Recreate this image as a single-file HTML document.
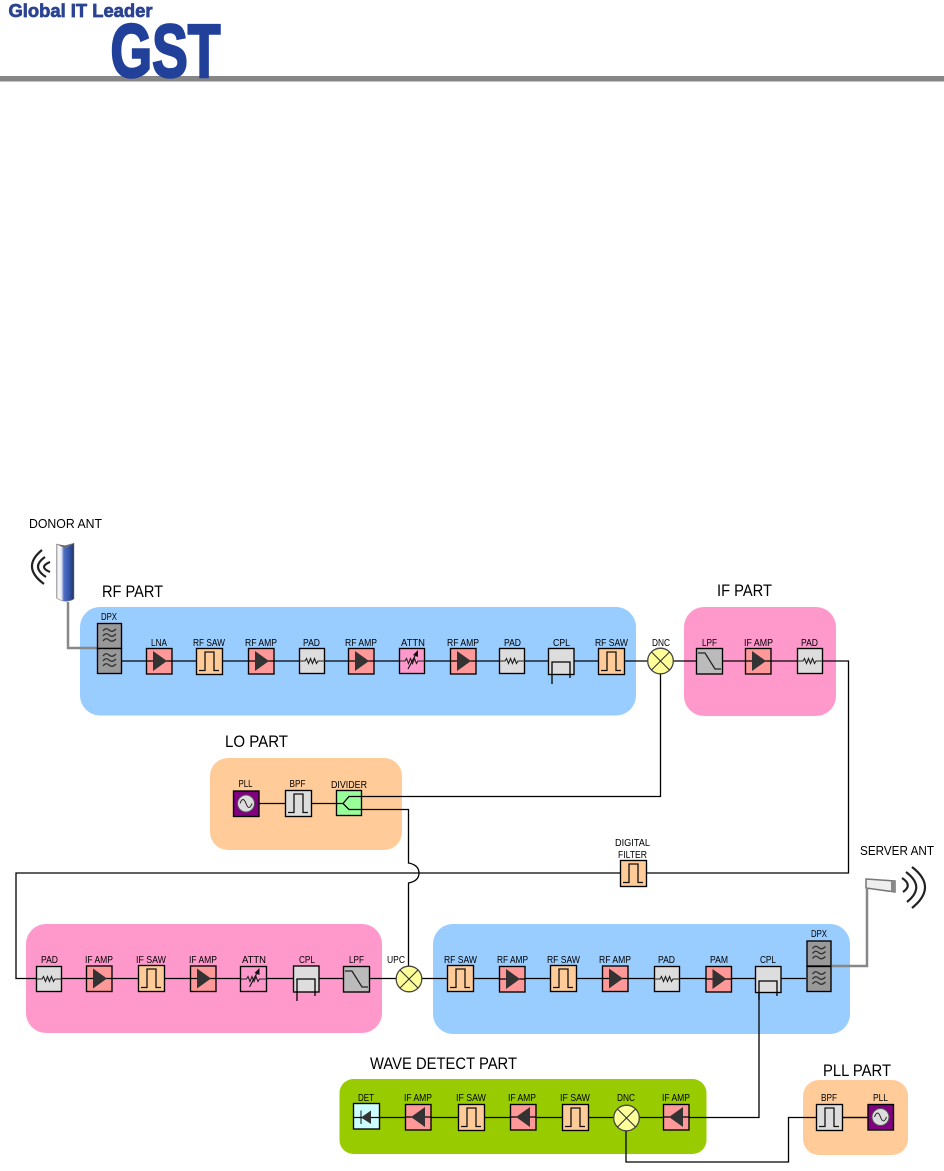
<!DOCTYPE html>
<html><head><meta charset="utf-8"><style>
html,body{margin:0;padding:0;background:#fff}
svg{display:block}
text{font-family:"Liberation Sans",sans-serif;fill:#000}
.s{font-size:10.5px}
.t{font-size:16.500px}
.m{font-size:12.500px}
rect[stroke="#000"]{stroke-width:1.350}
</style></head><body>
<svg width="944" height="1171" viewBox="0 0 944 1171" xmlns="http://www.w3.org/2000/svg">
<defs>
<linearGradient id="ant" x1="0" x2="1" y1="0" y2="0"><stop offset="0" stop-color="#bbbbc4"/><stop offset=".14" stop-color="#fff"/><stop offset=".3" stop-color="#d8dcec"/><stop offset=".42" stop-color="#4f70c8"/><stop offset=".82" stop-color="#2a4a9c"/><stop offset="1" stop-color="#2a2f44"/></linearGradient>
<g id="amp"><rect x=".5" y=".5" width="25.500" height="25.500" fill="#ff9999" stroke="#000"/><path d="M0 13H26" stroke="#000" stroke-width="1.300"/><path d="M7 3L21 13 7 23Z" fill="#333"/></g>
<g id="ampL"><rect x=".5" y=".5" width="25.500" height="25.500" fill="#ff9999" stroke="#000"/><path d="M0 13H26" stroke="#000" stroke-width="1.300"/><path d="M20 3L6 13 20 23Z" fill="#333"/></g>
<g id="saw"><rect x=".5" y=".5" width="26" height="26" fill="#ffcc99" stroke="#000"/><path d="M3 22.500H9V4H18V22.500H23" fill="none" stroke="#111" stroke-width="1.300"/></g>
<g id="bpf"><rect x=".5" y=".5" width="26" height="26" fill="#dddddd" stroke="#000"/><path d="M3 22.500H9V4H18V22.500H23" fill="none" stroke="#111" stroke-width="1.300"/></g>
<g id="pad"><rect x=".5" y=".5" width="25" height="25" fill="#dddddd" stroke="#000"/><path d="M0 13H6L7.500 10.500 9.500 15.500 11.500 10.500 13.500 15.500 15.500 10.500 17.500 15.500 19 13H26" fill="none" stroke="#222" stroke-width="1.100"/></g>
<g id="attn"><path d="M0 13H6L7.500 10.500 9.500 15.500 11.500 10.500 13.500 15.500 15.500 10.500 17.500 15.500 19 13H26" fill="none" stroke="#222" stroke-width="1.100"/><path d="M9 21L17 6" stroke="#111" stroke-width="1.100"/><path d="M19 2L19 9 14 7Z" fill="#111"/></g>
<g id="lpf"><rect x=".5" y=".5" width="26" height="25.500" fill="#bbbbbb" stroke="#000"/><path d="M2 5H9L19 21H25" fill="none" stroke="#222" stroke-width="1.300"/></g>
<g id="cpl"><rect x=".5" y=".5" width="25.500" height="26" fill="#dddddd" stroke="#000"/></g>
<g id="dpx"><rect x=".5" y=".5" width="24" height="25" fill="#999999" stroke="#000"/><g fill="none" stroke="#333" stroke-width="1.300"><path d="M6 8Q9 4 12 7T19 6"/><path d="M6 13Q9 9 12 12T19 11"/><path d="M6 18Q9 14 12 17T19 16"/></g></g>
<g id="osc"><rect x=".5" y=".5" width="25.500" height="25.500" fill="#800080" stroke="#000"/><circle cx="13" cy="13" r="8.500" fill="#ddd" stroke="#555"/><path d="M7 13Q10 5 13 13T19 13" fill="none" stroke="#222"/></g>
<g id="mix"><circle cx="13" cy="13" r="12.800" fill="#ffff99" stroke="#444" stroke-width="1.300"/><path d="M4 4L22 22M22 4L4 22" stroke="#333" stroke-width="1.100"/></g>
</defs>

<rect width="944" height="1171" fill="#fff"/>
<rect x="0" y="76" width="944" height="5.500" fill="#868686"/>
<text x="8.500" y="17" font-size="18.500" font-weight="700" textLength="144" lengthAdjust="spacingAndGlyphs" style="fill:#2b4392;stroke:#2b4392;stroke-width:.7">Global IT Leader</text>
<text x="110.500" y="77" font-size="75" font-weight="700" textLength="110" lengthAdjust="spacingAndGlyphs" style="fill:#20409a;stroke:#20409a;stroke-width:2.500">GST</text>

<rect x="80" y="607" width="556" height="108.500" rx="20" fill="#99ccff"/>
<rect x="684" y="607" width="152" height="109" rx="20" fill="#ff99cc"/>
<rect x="210" y="758" width="192" height="92" rx="18" fill="#ffcc99"/>
<rect x="26" y="924" width="356" height="109" rx="20" fill="#ff99cc"/>
<rect x="433" y="924" width="417" height="110" rx="20" fill="#99ccff"/>
<rect x="339.500" y="1079" width="367" height="75" rx="14" fill="#99cc00"/>
<rect x="803" y="1080" width="105" height="75" rx="16" fill="#ffcc99"/>

<g fill="none" stroke="#000" stroke-width="1.300">
<path d="M121 661H660M660 661H848.500V873H16V978.500H396M422 978.500H806"/>
<path d="M660.500 674V796.500H362"/>
<path d="M259 803.500H336"/>
<path d="M350 809.500H408.500V863Q419 865 419 873T408.500 883V966"/>
<path d="M380 1117.500H759V980"/>
<path d="M626 1130V1162H788.500V1117.500H868"/>
</g>
<g fill="none" stroke="#888" stroke-width="2.500">
<path d="M68 602V648H97"/>
<path d="M832 966H867V889"/>
</g>

<!-- RF row -->
<use href="#dpx" x="97" y="623"/><use href="#dpx" x="97" y="648"/>
<use href="#amp" x="146" y="648"/>
<use href="#saw" x="196" y="648"/>
<use href="#amp" x="248" y="648"/>
<use href="#pad" x="299" y="648"/>
<use href="#amp" x="348" y="648"/>
<rect x="399.500" y="648.500" width="25" height="25" fill="#ff99cc" stroke="#000"/><use href="#attn" x="399" y="648"/>
<use href="#amp" x="450" y="648"/>
<use href="#pad" x="499" y="648"/>
<use href="#cpl" x="548" y="648"/>
<path d="M552 684V662H570V678" fill="none" stroke="#000" stroke-width="1.300"/>
<use href="#saw" x="598" y="648"/>
<use href="#mix" x="647.500" y="648"/>
<use href="#lpf" x="696" y="648"/>
<use href="#amp" x="745" y="648"/>
<use href="#pad" x="797" y="648"/>

<!-- LO -->
<use href="#osc" x="233" y="790.500"/>
<use href="#bpf" x="285" y="790"/>
<rect x="336.500" y="790.500" width="25" height="25" fill="#99ff99" stroke="#000"/>
<path d="M336 803.500H343L349 796.500H362M343 803.500L349 809.500H362" fill="none" stroke="#000" stroke-width="1.300"/>

<!-- Digital filter -->
<use href="#saw" x="620" y="860"/>

<!-- Lower left -->
<use href="#pad" x="36" y="966"/>
<use href="#amp" x="86" y="965.500"/>
<use href="#saw" x="138" y="965"/>
<use href="#amp" x="190" y="965.500"/>
<rect x="240.500" y="966.500" width="26" height="25" fill="#ff99cc" stroke="#000"/><use href="#attn" x="240.500" y="966"/>
<use href="#cpl" x="293" y="965.500"/>
<path d="M297 1001V979H315V996" fill="none" stroke="#000" stroke-width="1.300"/>
<use href="#lpf" x="343" y="966"/>
<use href="#mix" x="396" y="966"/>

<!-- Lower right -->
<use href="#saw" x="447" y="965"/>
<use href="#amp" x="499" y="966"/>
<use href="#saw" x="550" y="965"/>
<use href="#amp" x="602" y="965.500"/>
<use href="#pad" x="654" y="966"/>
<use href="#amp" x="705.500" y="966"/>
<use href="#cpl" x="755" y="966"/>
<path d="M759 1000V981H777V996" fill="none" stroke="#000" stroke-width="1.300"/>
<use href="#dpx" x="806.500" y="940.500"/><use href="#dpx" x="806.500" y="966"/>

<!-- Wave detect -->
<rect x="353.500" y="1103.500" width="26" height="25.500" fill="#ccffff" stroke="#000"/>
<path d="M353 1117.500H380" stroke="#000" stroke-width="1.300"/>
<path d="M371 1110.500V1124L361 1117.500Z" fill="#333"/><path d="M361 1110.500V1124" stroke="#111"/>
<use href="#ampL" x="405" y="1104"/>
<use href="#saw" x="458" y="1104"/>
<use href="#ampL" x="510" y="1104"/>
<use href="#saw" x="562" y="1104"/>
<use href="#mix" x="613.500" y="1105"/>
<use href="#ampL" x="663" y="1104"/>

<!-- PLL part -->
<use href="#bpf" x="816" y="1104"/>
<path d="M842 1117.500H868" stroke="#000" stroke-width="1.300"/>
<use href="#osc" x="867.500" y="1104"/>

<!-- antennas -->
<path d="M56.500 544L65 548 74 543V599Q65 604 56.500 598Z" fill="url(#ant)" stroke="#888" stroke-width=".6"/>
<path d="M56.500 544L65 548 74 543 65 545.500Z" fill="#666"/>
<g fill="none" stroke="#222" stroke-width="2.200">
<path d="M42 550Q21 567 44 584"/><path d="M45 557Q30.500 567 46 577"/><path d="M50 562Q38 567 50 572"/>
</g>
<path d="M866 879L895 881V892L866 888Z" fill="#eee" stroke="#777" stroke-width="1.500"/>
<path d="M891 881H895V891.500H891Z" fill="#888"/>
<g fill="none" stroke="#222" stroke-width="2.200">
<path d="M912 867Q938 887 912 908"/><path d="M906 872Q926 887 907 902"/><path d="M902 878Q913 885 903 892"/>
</g>

<!-- Titles -->
<text class="m" x="29" y="528" textLength="73" lengthAdjust="spacingAndGlyphs">DONOR ANT</text>
<text class="t" x="102" y="597" textLength="61" lengthAdjust="spacingAndGlyphs">RF PART</text>
<text class="t" x="717" y="596" textLength="55" lengthAdjust="spacingAndGlyphs">IF PART</text>
<text class="t" x="225" y="747" textLength="63" lengthAdjust="spacingAndGlyphs">LO PART</text>
<text class="m" x="860" y="855" textLength="74" lengthAdjust="spacingAndGlyphs">SERVER ANT</text>
<text class="t" x="370" y="1069" textLength="147" lengthAdjust="spacingAndGlyphs">WAVE DETECT PART</text>
<text class="t" x="823" y="1076" textLength="68" lengthAdjust="spacingAndGlyphs">PLL PART</text>

<!-- Small labels -->
<g>
<text class="s" x="101" y="620" textLength="16" lengthAdjust="spacingAndGlyphs">DPX</text>
<text class="s" x="151" y="646" textLength="16" lengthAdjust="spacingAndGlyphs">LNA</text>
<text class="s" x="193" y="646" textLength="32" lengthAdjust="spacingAndGlyphs">RF SAW</text>
<text class="s" x="245" y="646" textLength="32" lengthAdjust="spacingAndGlyphs">RF AMP</text>
<text class="s" x="303" y="646" textLength="17" lengthAdjust="spacingAndGlyphs">PAD</text>
<text class="s" x="345" y="646" textLength="32" lengthAdjust="spacingAndGlyphs">RF AMP</text>
<text class="s" x="401" y="646" textLength="24" lengthAdjust="spacingAndGlyphs">ATTN</text>
<text class="s" x="447" y="646" textLength="32" lengthAdjust="spacingAndGlyphs">RF AMP</text>
<text class="s" x="504" y="646" textLength="17" lengthAdjust="spacingAndGlyphs">PAD</text>
<text class="s" x="553" y="646" textLength="17" lengthAdjust="spacingAndGlyphs">CPL</text>
<text class="s" x="595" y="646" textLength="33" lengthAdjust="spacingAndGlyphs">RF SAW</text>
<text class="s" x="652" y="646" textLength="18" lengthAdjust="spacingAndGlyphs">DNC</text>
<text class="s" x="702" y="646" textLength="15" lengthAdjust="spacingAndGlyphs">LPF</text>
<text class="s" x="744" y="646" textLength="29" lengthAdjust="spacingAndGlyphs">IF AMP</text>
<text class="s" x="801" y="646" textLength="17" lengthAdjust="spacingAndGlyphs">PAD</text>

<text class="s" x="238.500" y="787" textLength="14" lengthAdjust="spacingAndGlyphs">PLL</text>
<text class="s" x="289.500" y="787" textLength="16" lengthAdjust="spacingAndGlyphs">BPF</text>
<text class="s" x="331" y="788" textLength="36" lengthAdjust="spacingAndGlyphs">DIVIDER</text>

<text class="s" x="615" y="846" textLength="35" lengthAdjust="spacingAndGlyphs">DIGITAL</text>
<text class="s" x="618" y="858" textLength="29" lengthAdjust="spacingAndGlyphs">FILTER</text>

<text class="s" x="41" y="963" textLength="17" lengthAdjust="spacingAndGlyphs">PAD</text>
<text class="s" x="85" y="963" textLength="28" lengthAdjust="spacingAndGlyphs">IF AMP</text>
<text class="s" x="136" y="963" textLength="30" lengthAdjust="spacingAndGlyphs">IF SAW</text>
<text class="s" x="189" y="963" textLength="28" lengthAdjust="spacingAndGlyphs">IF AMP</text>
<text class="s" x="242" y="963" textLength="24" lengthAdjust="spacingAndGlyphs">ATTN</text>
<text class="s" x="299" y="963" textLength="16" lengthAdjust="spacingAndGlyphs">CPL</text>
<text class="s" x="349" y="963" textLength="15" lengthAdjust="spacingAndGlyphs">LPF</text>
<text class="s" x="387" y="963" textLength="18" lengthAdjust="spacingAndGlyphs">UPC</text>

<text class="s" x="444" y="963" textLength="33" lengthAdjust="spacingAndGlyphs">RF SAW</text>
<text class="s" x="497" y="963" textLength="31" lengthAdjust="spacingAndGlyphs">RF AMP</text>
<text class="s" x="547" y="963" textLength="33" lengthAdjust="spacingAndGlyphs">RF SAW</text>
<text class="s" x="599" y="963" textLength="32" lengthAdjust="spacingAndGlyphs">RF AMP</text>
<text class="s" x="658" y="963" textLength="17" lengthAdjust="spacingAndGlyphs">PAD</text>
<text class="s" x="710" y="963" textLength="18" lengthAdjust="spacingAndGlyphs">PAM</text>
<text class="s" x="760" y="963" textLength="16" lengthAdjust="spacingAndGlyphs">CPL</text>
<text class="s" x="811" y="937" textLength="16" lengthAdjust="spacingAndGlyphs">DPX</text>

<text class="s" x="358" y="1101" textLength="16" lengthAdjust="spacingAndGlyphs">DET</text>
<text class="s" x="404" y="1101" textLength="28" lengthAdjust="spacingAndGlyphs">IF AMP</text>
<text class="s" x="456" y="1101" textLength="30" lengthAdjust="spacingAndGlyphs">IF SAW</text>
<text class="s" x="508" y="1101" textLength="28" lengthAdjust="spacingAndGlyphs">IF AMP</text>
<text class="s" x="560" y="1101" textLength="30" lengthAdjust="spacingAndGlyphs">IF SAW</text>
<text class="s" x="617" y="1101" textLength="18" lengthAdjust="spacingAndGlyphs">DNC</text>
<text class="s" x="662" y="1101" textLength="28" lengthAdjust="spacingAndGlyphs">IF AMP</text>
<text class="s" x="821" y="1101" textLength="16" lengthAdjust="spacingAndGlyphs">BPF</text>
<text class="s" x="873" y="1101" textLength="15" lengthAdjust="spacingAndGlyphs">PLL</text>
</g>
</svg>
</body></html>
